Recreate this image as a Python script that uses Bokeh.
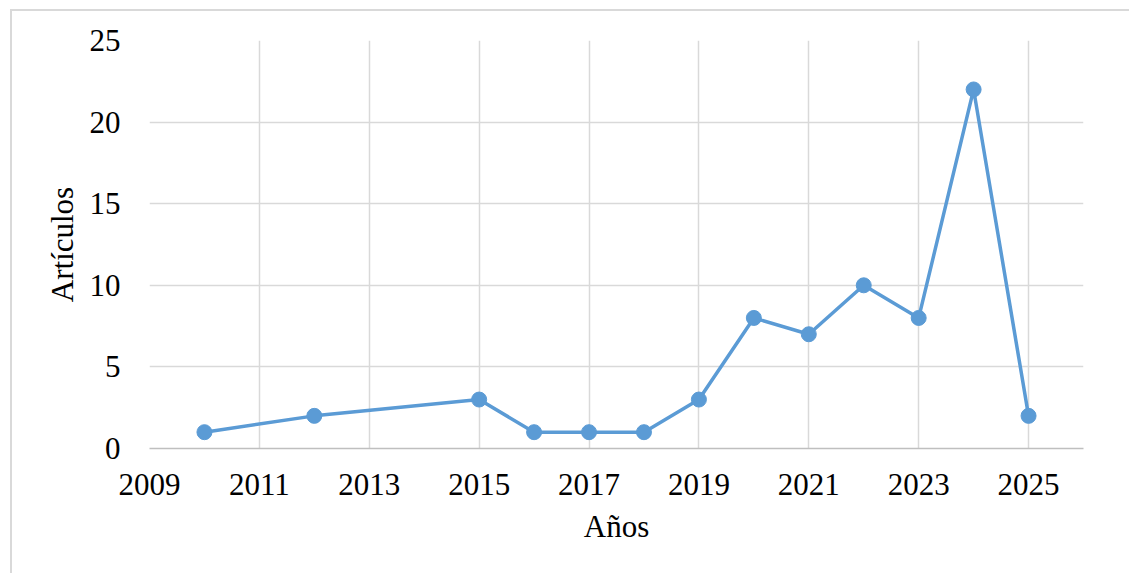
from bokeh.plotting import figure
from bokeh.embed import file_html
from bokeh.resources import INLINE
from bokeh.models import FixedTicker, Range1d, InlineStyleSheet

years = [2010, 2012, 2015, 2016, 2017, 2018, 2019, 2020, 2021, 2022, 2023, 2024, 2025]
articles = [1, 2, 3, 1, 1, 1, 3, 8, 7, 10, 8, 22, 2]
x_ticks = [2009, 2011, 2013, 2015, 2017, 2019, 2021, 2023, 2025]
y_ticks = [0, 5, 10, 15, 20, 25]

FONT = "Liberation Serif"
FS = "31px"
COLOR = "#5b9bd5"

css = InlineStyleSheet(css="""
:host { position: relative; }
:host::after {
  content: "";
  position: absolute;
  left: 10px; top: 9px; right: -20px; bottom: -20px;
  border: 2px solid #d9d9d9;
  pointer-events: none;
  z-index: 10;
}
""")

p = figure(frame_width=934, frame_height=408, output_backend="svg", toolbar_location=None,
           x_range=Range1d(2009, 2026), y_range=Range1d(0, 25),
           min_border_left=149, min_border_right=46, min_border_top=40, min_border_bottom=125,
           stylesheets=[css])
p.outline_line_color = None
p.background_fill_color = "white"
p.border_fill_color = "white"

p.line(years, articles, line_color=COLOR, line_width=3.5)
p.scatter(years, articles, size=15, fill_color=COLOR, line_color=COLOR)

p.xaxis.ticker = FixedTicker(ticks=x_ticks)
p.yaxis.ticker = FixedTicker(ticks=y_ticks)
p.xgrid.ticker = FixedTicker(ticks=x_ticks)
p.ygrid.ticker = FixedTicker(ticks=y_ticks)
for g in (p.xgrid, p.ygrid):
    g.grid_line_color = "#d9d9d9"
    g.grid_line_width = 1.5

for ax in (p.xaxis, p.yaxis):
    ax.major_tick_line_color = None
    ax.minor_tick_line_color = None
    ax.major_label_text_font = FONT
    ax.major_label_text_font_size = FS
    ax.major_label_text_color = "black"
    ax.axis_label_text_font = FONT
    ax.axis_label_text_font_size = FS
    ax.axis_label_text_font_style = "normal"
    ax.axis_label_text_color = "black"
p.yaxis.axis_line_color = None
p.xaxis.axis_line_color = "#bfbfbf"
p.xaxis.axis_line_width = 1.5
p.xaxis.axis_label = "Años"
p.yaxis.axis_label = "Artículos"
p.yaxis.major_label_standoff = 23
p.xaxis.major_label_standoff = 19
p.yaxis.axis_label_standoff = 7
p.xaxis.axis_label_standoff = 11

open("out.html", "w").write(file_html(p, INLINE))
